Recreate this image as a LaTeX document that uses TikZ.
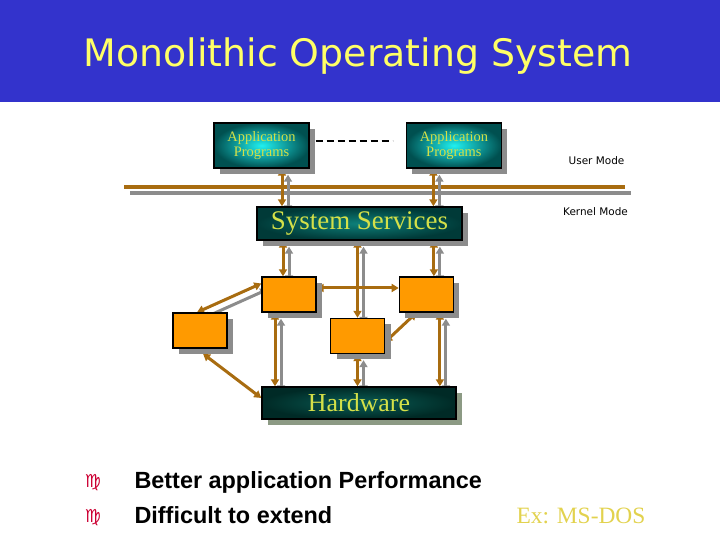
\documentclass[tikz,border=0pt]{standalone}
\usepackage{fontspec}
\setmainfont{Liberation Serif}
\newfontfamily\slidesans{DejaVu Sans}
\newfontfamily\bodysans{Liberation Sans}
\usepackage{tikz}
\usetikzlibrary{arrows.meta, positioning, calc, shadows, backgrounds}
\definecolor{tblue}{HTML}{3333CC}
\definecolor{tyellow}{HTML}{FFFF66}
\definecolor{linkor}{HTML}{A86C10}
\definecolor{modor}{HTML}{FF9A00}
\definecolor{sgray}{HTML}{8C8C8C}
\definecolor{hwgray}{HTML}{8C9A84}
\definecolor{appin}{HTML}{20F0F0}
\definecolor{appout}{HTML}{005050}
\definecolor{ssin}{HTML}{0E807A}
\definecolor{ssout}{HTML}{003A38}
\definecolor{hwin}{HTML}{0A5E56}
\definecolor{hwout}{HTML}{002A26}
\definecolor{lablime}{HTML}{D4E048}
\definecolor{crimson}{HTML}{CC0033}
\definecolor{exgold}{HTML}{E2D24E}
\tikzset{
  panel/.style={
    draw=black, line width=1.4bp, inner sep=0pt, align=center,
    drop shadow={shadow xshift=6bp, shadow yshift=-6bp, fill=#1, opacity=1}
  },
  panel/.default=sgray,
  appbox/.style={
    panel, inner color=appin, outer color=appout, text=lablime,
    minimum width=95bp, minimum height=45bp, font=\fontsize{14.5}{15}\selectfont
  },
  tealbar/.style={
    panel=#1, text=lablime, font=\fontsize{27}{28}\selectfont
  },
  tealbar/.default=sgray,
  modbox/.style={
    panel, fill=modor, minimum width=54bp, minimum height=35bp
  },
  link/.style={
    {Triangle[length=7bp,width=8bp]}-{Triangle[length=7bp,width=8bp]},
    line width=3bp, draw=linkor
  },
  modelab/.style={font=\slidesans\fontsize{10.5}{12}\selectfont},
  point/.style={anchor=base west, font=\bodysans\bfseries\fontsize{23.5}{26}\selectfont}
}
\newcommand{\shadelink}[2]{%
  \draw[link, draw=sgray, transform canvas={shift={(6bp,-6bp)}}] #1 -- #2;
  \draw[link] #1 -- #2;}

\begin{document}
\begin{tikzpicture}[x=1bp, y=1bp]
  \useasboundingbox (0,0) rectangle (720,540);
  \fill[tblue] (0,438) rectangle (720,540);
  \node[anchor=base, text=tyellow, font=\slidesans\fontsize{38}{40}\selectfont] (title) at (358,473) {Monolithic Operating System};

  % boxes
  \node[appbox] (appL) at (261.5,394.5) {Application\\Programs};
  \node[appbox, right=96bp of appL] (appR) {Application\\Programs};
  \node[tealbar, inner color=ssin, outer color=ssout, minimum width=205bp, minimum height=33bp] (ss) at (359.5,316.5) {System Services};
  \node[modbox] (modA) at (289,245.5) {};
  \node[modbox, right=82bp of modA] (modB) {};
  \node[modbox] (modC) at (200,209.5) {};
  \node[modbox] (modD) at (357.5,204) {};
  \node[tealbar=hwgray, inner color=hwin, outer color=hwout, minimum width=194bp, minimum height=32bp, font=\fontsize{26}{27}\selectfont] (hw) at (359,137) {Hardware};

  \node[modelab] (user) at (596.5,379) {User Mode};
  \node[modelab] (kernel) at (595.5,328) {Kernel Mode};

  \draw[line width=1.4bp, dash pattern=on 7bp off 4bp] ([shift={(6bp,4.5bp)}]appL.east) -- ([shift={(-13bp,4.5bp)}]appR.west);

  % user / kernel boundary and connectors
  \begin{scope}[on background layer]
    \coordinate (bndL) at (124,353);
    \coordinate (bndR) at (625,353);
    \draw[line width=4.5bp, draw=sgray] ([shift={(6bp,-6bp)}]bndL) -- ([shift={(6bp,-6bp)}]bndR);
    \draw[line width=4.5bp, draw=linkor] (bndL) -- (bndR);

    \shadelink{([xshift=20.5bp]appL.south)}{([xshift=20.5bp]appL.south |- ss.north)}
    \shadelink{([xshift=-20.5bp]appR.south)}{([xshift=-20.5bp]appR.south |- ss.north)}
    \shadelink{([xshift=-6bp]modA.north)}{([xshift=-6bp]modA.north |- ss.south)}
    \shadelink{(modD.north)}{(modD.north |- ss.south)}
    \shadelink{([xshift=7.5bp]modB.north)}{([xshift=7.5bp]modB.north |- ss.south)}
    \shadelink{([xshift=-3bp]modC.north)}{([yshift=11bp]modA.west)}
    \shadelink{([xshift=-14bp]modA.south)}{([xshift=-14bp]modA.south |- hw.north)}
    \shadelink{(modD.south)}{(modD.south |- hw.north)}
    \shadelink{([xshift=13.5bp]modB.south)}{([xshift=13.5bp]modB.south |- hw.north)}
    \draw[link] ([yshift=6.5bp]modA.east) -- ([yshift=6.5bp]modB.west);
    \draw[link] ([shift={(3bp,-5bp)}]modC.south) -- ([yshift=5bp]hw.west);
    \draw[link] ([yshift=-6bp]modD.east) -- ([xshift=-10bp]modB.south);
  \end{scope}

  % bullets
  \node[anchor=base, text=crimson, font=\slidesans\fontsize{18}{20}\selectfont] (dot1) at (93,52) {♍};
  \node[anchor=base, text=crimson, font=\slidesans\fontsize{18}{20}\selectfont] (dot2) at (93,17) {♍};
  \node[point] (pt1) at (131,51) {Better application Performance};
  \node[point] (pt2) at (131,16) {Difficult to extend};
  \node[anchor=base, text=exgold, font=\fontsize{23.5}{26}\selectfont] (ex) at (581,16) {Ex: MS-DOS};
\end{tikzpicture}
\end{document}
